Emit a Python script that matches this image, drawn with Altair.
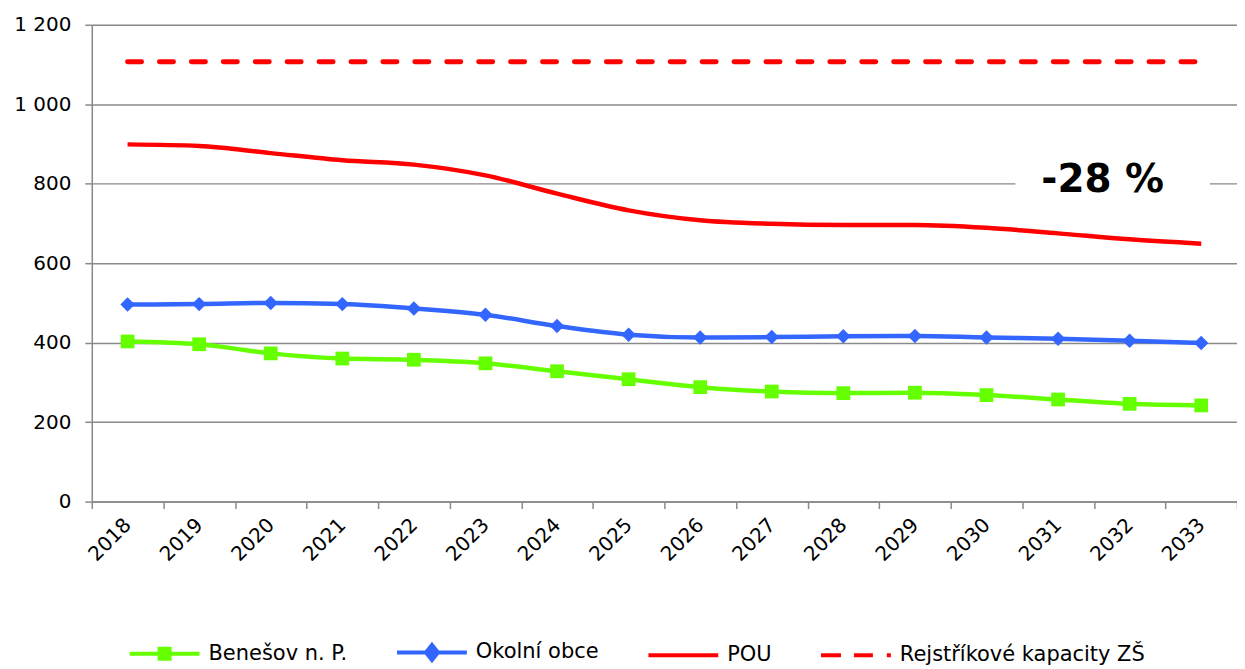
import altair as alt
import pandas as pd

years = ["2018", "2019", "2020", "2021", "2022", "2023", "2024", "2025",
         "2026", "2027", "2028", "2029", "2030", "2031", "2032", "2033"]
benesov = [403, 396, 373, 360, 357, 348, 328, 308, 288, 277, 273, 274, 268, 257, 246, 242]
okolni = [496, 497, 500, 497, 486, 470, 442, 420, 413, 414, 416, 417, 413, 410, 405, 399]
pou = [899, 895, 877, 859, 848, 821, 775, 733, 708, 699, 696, 696, 689, 675, 660, 649]
kapacity = [1107, 1107, 1107, 1107, 1107, 1107, 1107, 1107,
            1107, 1107, 1107, 1107, 1107, 1107, 1107, 1107]

series_names = ["Benešov n. P.", "Okolní obce", "POU", "Rejstříkové kapacity ZŠ"]
series_colors = ["#66FF00", "#3366FF", "#FF0000", "#FF0000"]
y_ticks = [0, 200, 400, 600, 800, 1000, 1200]

annotation_text = ["-28 %"]
annotation_year = ["2032"]
annotation_value = [800]
annotation_box_low = [765]
annotation_box_high = [845]

# legend symbols (custom paths: line + marker), unit = 10 px at size 400
legend_paths = [
    "M-1,0H6M2.0,-0.5H3.0V0.5H2.0Z",
    "M-1,0H6M2.5,-0.75L3.1,0L2.5,0.75L1.9,0Z",
    "M-1,0H6",
    "M-1,0H1M2.3,0H4.2M5.6,0H6",
]

FONT = "DejaVu Sans"
GRAY = "#8a8a8a"

rows = []
for name, vals in zip(series_names, [benesov, okolni, pou, kapacity]):
    for yr, v in zip(years, vals):
        rows.append({"year": yr, "series": name, "value": v})
df = pd.DataFrame(rows)

ann = pd.DataFrame({"year": annotation_year, "text": annotation_text,
                    "value": annotation_value, "lo": annotation_box_low,
                    "hi": annotation_box_high})

x_axis = alt.Axis(title=None, labelAngle=-45, labelAlign="right",
                  labelBaseline="middle", labelPadding=13, tickBand="extent",
                  grid=False)
y_axis = alt.Axis(title=None, values=y_ticks, labelPadding=14, grid=True,
                  labelExpr="replace(format(datum.value, ','), ',', ' ')")
x_scale = alt.Scale(domain=years, paddingInner=0, paddingOuter=0)
y_scale = alt.Scale(domain=[0, 1200], nice=False, zero=True)


def X():
    return alt.X("year:O", sort=years, scale=x_scale, axis=x_axis)


def Y(field="value"):
    return alt.Y(f"{field}:Q", scale=y_scale, axis=y_axis)


base = alt.Chart(df)


def line_for(name, color, dash=None, width=4.5, interp="monotone"):
    kw = dict(color=color, strokeWidth=width, interpolate=interp)
    if dash:
        kw["strokeDash"] = dash
        kw["strokeCap"] = "round"
    return base.transform_filter(alt.datum.series == name).mark_line(**kw).encode(
        x=X(), y=Y())


l_ben = line_for(series_names[0], series_colors[0])
l_oko = line_for(series_names[1], series_colors[1])
l_pou = line_for(series_names[2], series_colors[2])
l_kap = line_for(series_names[3], series_colors[3], dash=[14, 18], width=5,
                 interp="linear")

p_ben = base.transform_filter(alt.datum.series == series_names[0]).mark_point(
    shape="square", filled=True, size=190, opacity=1, color=series_colors[0]
).encode(x=X(), y=Y())
p_oko = base.transform_filter(alt.datum.series == series_names[1]).mark_point(
    shape="diamond", filled=True, size=210, opacity=1, color=series_colors[1]
).encode(x=X(), y=Y())

box = alt.Chart(ann).mark_bar(color="white", width=195, xOffset=-17).encode(
    x=X(), y=Y("lo"), y2="hi:Q")
txt = alt.Chart(ann).mark_text(font=FONT, fontSize=39, fontWeight="bold",
                               color="black", align="center",
                               baseline="middle", dx=-27, dy=-4).encode(
    x=X(), y=Y("value"), text="text:N")

leg = alt.Legend(title=None, orient="none", direction="horizontal",
                 legendX=36, legendY=617,
                 labelFont=FONT, labelFontSize=21, labelColor="#000000",
                 labelOffset=57, symbolSize=400, symbolStrokeWidth=4,
                 symbolOpacity=1, columnPadding=41, labelLimit=400)

legend_layer = base.transform_filter("false").mark_point(
    filled=True, strokeWidth=4, opacity=1, size=400
).encode(
    x=X(), y=Y(),
    shape=alt.Shape("series:N", scale=alt.Scale(domain=series_names, range=legend_paths),
                    legend=leg),
    fill=alt.Fill("series:N", scale=alt.Scale(domain=series_names, range=series_colors),
                  legend=leg),
    stroke=alt.Stroke("series:N", scale=alt.Scale(domain=series_names, range=series_colors),
                      legend=leg),
)

chart = alt.layer(box, l_kap, l_pou, l_oko, l_ben, p_oko, p_ben, txt, legend_layer).properties(
    width=1148, height=478, autosize="none",
    padding={"left": 84, "top": 16, "right": 0, "bottom": 166},
).configure_view(stroke=None).configure(background="white").configure_axis(
    labelFont=FONT, labelFontSize=20, labelColor="#000000",
    tickSize=7, tickColor=GRAY, tickWidth=1.5,
    domainColor=GRAY, domainWidth=1.5, gridColor=GRAY, gridWidth=1.5
)

chart.save("out.html", embed_options={"renderer": "svg", "actions": False})
